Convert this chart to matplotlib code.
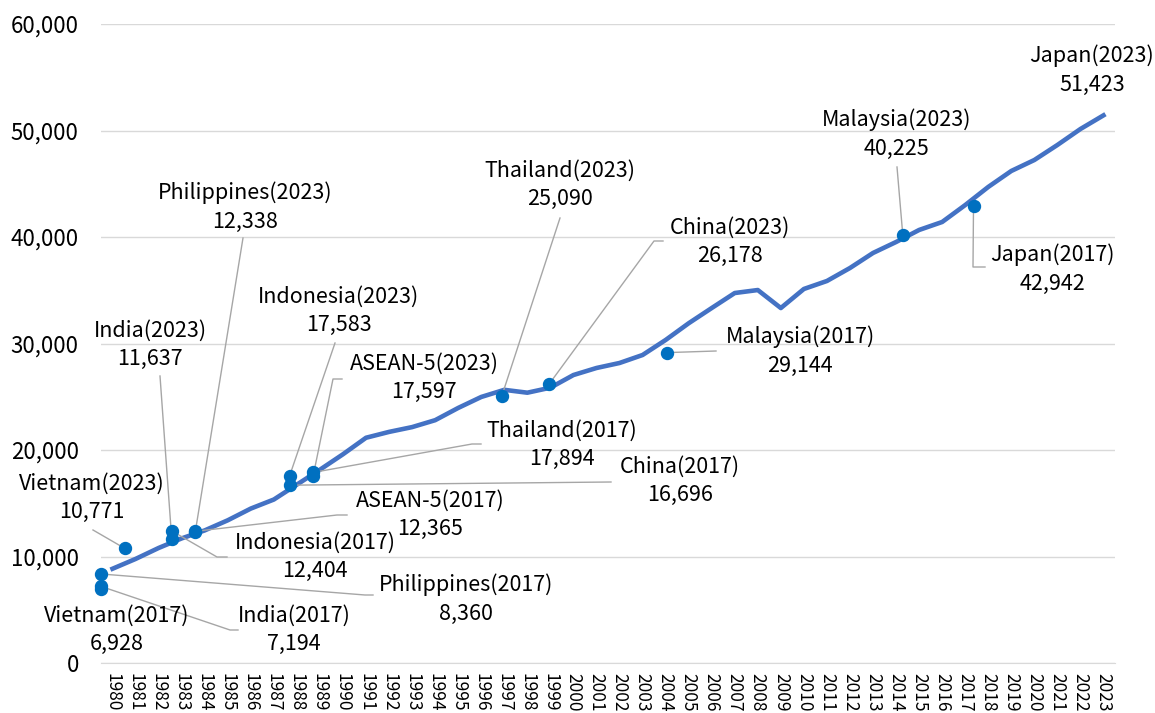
import matplotlib
matplotlib.use("Agg")
import matplotlib.pyplot as plt
from matplotlib.lines import Line2D
from matplotlib.transforms import IdentityTransform

# Japan GDP per capita line, 1980-2023
years = list(range(1980, 2024))
japan = [8850, 9770, 10800, 11700, 12450, 13400, 14500, 15350, 16750, 18150,
         19600, 21150, 21700, 22150, 22800, 23950, 24980, 25650, 25380, 25850,
         27040, 27700, 28170, 28920, 30330, 31900, 33330, 34740, 35020, 33330,
         35120, 35870, 37090, 38500, 39530, 40660, 41410, 43000, 44700, 46200,
         47230, 48640, 50140, 51423]

# other countries, placed at the year Japan was at the same level
dot_names = ["Vietnam(2017)", "India(2017)", "Philippines(2017)", "Vietnam(2023)",
             "India(2023)", "Indonesia(2017)", "ASEAN-5(2017)", "Philippines(2023)",
             "China(2017)", "Indonesia(2023)", "ASEAN-5(2023)", "Thailand(2017)",
             "Thailand(2023)", "China(2023)", "Malaysia(2017)", "Malaysia(2023)",
             "Japan(2017)"]
dot_values = [6928, 7194, 8360, 10771, 11637, 12404, 12365, 12338, 16696, 17583,
              17597, 17894, 25090, 26178, 29144, 40225, 42942]
dot_years = [1980, 1980, 1980, 1981, 1983, 1983, 1984, 1984, 1988, 1988,
             1989, 1989, 1997, 1999, 2004, 2014, 2017]

# label layout in image pixels (x, y from top): text centre, leader points
W, H = 1155, 713
layout = {
    "Japan(2023)": (1092, 70, []),
    "Malaysia(2023)": (897, 134, [(897, 167)]),
    "Japan(2017)": (1052, 269, [(973, 267), (985, 267)]),
    "Malaysia(2017)": (800, 351, [(716, 351)]),
    "China(2023)": (730, 242, [(654, 241), (663, 241)]),
    "Thailand(2023)": (560, 185, [(560, 218)]),
    "Thailand(2017)": (562, 445, [(472, 444), (481, 444)]),
    "ASEAN-5(2023)": (424, 378, [(333, 379), (342, 379)]),
    "Indonesia(2023)": (339, 311, [(335, 343)]),
    "India(2023)": (150, 345, [(160, 376)]),
    "Philippines(2023)": (245, 207, [(243, 238)]),
    "Vietnam(2023)": (92, 498, [(93, 530)]),
    "Indonesia(2017)": (315, 557, [(217, 557), (227, 557)]),
    "ASEAN-5(2017)": (430, 515, [(337, 515), (347, 515)]),
    "China(2017)": (680, 481, [(611, 482)]),
    "Philippines(2017)": (466, 599, [(365, 595), (373, 595)]),
    "India(2017)": (294, 630, [(230, 630), (238, 630)]),
    "Vietnam(2017)": (117, 630, []),
}

plt.rcParams['font.family'] = ["Noto Sans CJK JP", "DejaVu Sans"]

fig = plt.figure(figsize=(W / 100, H / 100), dpi=100)
ax = fig.add_axes([101 / W, (H - 663) / H, 1014 / W, 639 / H])

ax.plot(years, japan, color='#4472C4', lw=3.3, solid_joinstyle='round', zorder=3)
ax.set_xlim(1979.5, 2023.5)
ax.set_ylim(0, 60000)
ax.set_xticks(years)
ax.set_xticklabels([str(y) for y in years], rotation=-90, fontsize=12.5)
ax.set_yticks(range(0, 60001, 10000))
ax.set_yticklabels([f"{v:,}" for v in range(0, 60001, 10000)], fontsize=16)
ax.tick_params(axis='both', length=0)
ax.tick_params(axis='y', pad=16)
ax.tick_params(axis='x', pad=7)
ax.grid(axis='y', color='#d9d9d9', lw=1)
ax.set_axisbelow(True)
for s in ['top', 'right', 'left']:
    ax.spines[s].set_visible(False)
ax.spines['bottom'].set_color('#d9d9d9')

# the dots sit on their own x scale
ax2 = ax.twiny()
ax2.set_xlim(1980, 2023)
ax2.set_ylim(0, 60000)
ax2.set_xticks([])
for s in ax2.spines.values():
    s.set_visible(False)
ax2.scatter(dot_years, dot_values, s=74, color='#0070C0', zorder=5, clip_on=False)

values = dict(zip(dot_names, dot_values))
dyears = dict(zip(dot_names, dot_years))
values["Japan(2023)"] = japan[-1]

for name, (cx, cy, pts) in layout.items():
    ax2.text(cx, H - cy, f"{name}\n{values[name]:,}", transform=IdentityTransform(),
             ha='center', va='center', multialignment='center', fontsize=15.5,
             linespacing=1.4, clip_on=False, zorder=6)
    if pts:
        dx, dy = ax2.transData.transform((dyears[name], values[name]))
        xs = [dx] + [p[0] for p in pts]
        ys = [dy] + [H - p[1] for p in pts]
        ax2.add_line(Line2D(xs, ys, transform=IdentityTransform(), color='#a6a6a6',
                            lw=1, zorder=4, clip_on=False))

ax2.set_xlim(1980, 2023)
ax.set_ylim(0, 60000)
fig.savefig("out.png", dpi=100)
